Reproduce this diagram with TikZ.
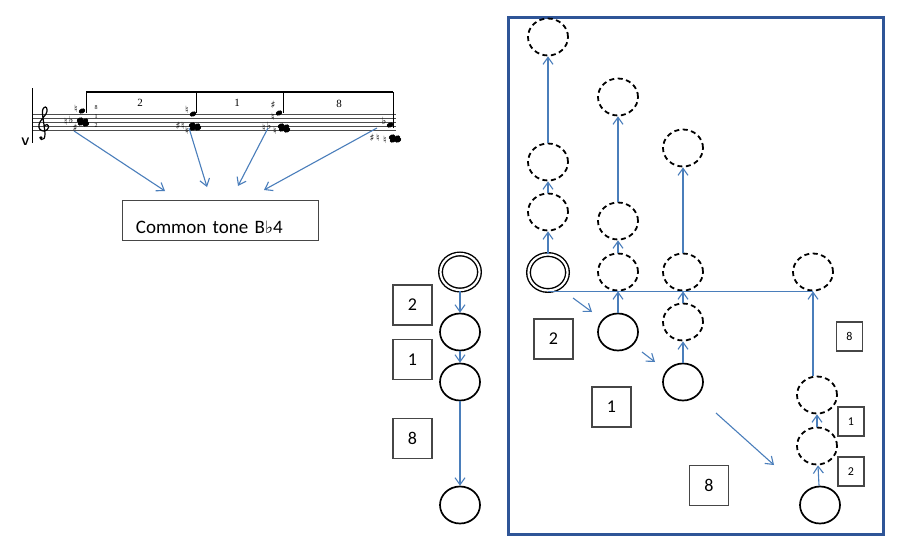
\documentclass[tikz,border=0pt]{standalone}
\usepackage{fontspec}
\setmainfont{Carlito}
\newfontfamily\serif{Liberation Serif}
\newfontfamily\sym{DejaVu Sans}
\usetikzlibrary{arrows.meta,shapes.geometric}
\definecolor{arrowblue}{RGB}{74,126,187}
\definecolor{frameblue}{RGB}{47,85,151}
\definecolor{boxgray}{RGB}{70,70,70}
\newcommand\nhead[2]{\fill[rotate around={25:(#1,#2)}] (#1,#2) ellipse [x radius=3.4pt, y radius=2.4pt];}
\newcommand\acc[3]{\node[font=\sym\fontsize{10}{10}\selectfont, inner sep=0] at (#1,#2) {#3};}
\begin{document}
\begin{tikzpicture}[x=1pt,y=-1pt,
  conn/.style={draw=arrowblue, line width=1.1pt, -{Straight Barb[length=7pt,width=10pt,line width=1.1pt]}},
  bline/.style={draw=arrowblue, line width=1.2pt},
  solidc/.style={ellipse, draw=black, line width=1.7pt, minimum width=40pt, minimum height=37pt, inner sep=0pt},
  dashc/.style={ellipse, draw=black, line width=1.8pt, dash pattern=on 5pt off 3.5pt, minimum width=40pt, minimum height=37pt, inner sep=0pt},
  dblc/.style={ellipse, draw=black, line width=1.4pt, double, double distance=2.2pt, minimum width=39pt, minimum height=36pt, inner sep=0pt},
  numbox/.style={draw=boxgray, line width=1.1pt, minimum width=39pt, minimum height=40pt, inner sep=0pt, font=\fontsize{18}{18}\selectfont},
  smallbox/.style={draw=boxgray, line width=1.1pt, minimum width=26pt, minimum height=29pt, inner sep=0pt, font=\fontsize{12}{12}\selectfont}
]
\useasboundingbox (0,0) rectangle (900,549);
\fill[white] (0,0) rectangle (900,549);

% ---------- music excerpt ----------
\foreach \yy in {114,118,122,126,130} \draw[black!70, line width=0.5pt] (32,\yy) -- (396,\yy);
\draw[black, line width=0.8pt] (32,88) -- (32,143);
\node[font=\sffamily\bfseries\fontsize{11}{11}\selectfont, inner sep=0] (vmark) at (25.5,142) {V};
% treble clef drawn as a shape
\draw[black, line width=1.2pt, line cap=round] plot[smooth, tension=0.7] coordinates {(44.5,126) (47,124.5) (48.5,127.5) (45,131) (40,129.5) (39,124.5) (42,119) (46,114) (47,109.5) (45.5,107) (43,109) (42.5,114) (44,125) (45,134) (44,138.5) (41.5,139.5) (40,137.5)};
\fill[black] (41,137.8) circle (1.6pt);
\draw[black, line width=2.4pt] (86,92) -- (393,92);
\draw[black, line width=0.6pt] (86,92) -- (86,113);
\draw[black, line width=0.6pt] (196,92) -- (196,113);
\draw[black, line width=0.6pt] (283,92) -- (283,113);
\draw[black, line width=0.6pt] (393,92) -- (393,128);
\node[font=\serif\fontsize{11}{11}\selectfont, inner sep=0] (g2) at (140,103) {2};
\node[font=\serif\fontsize{11}{11}\selectfont, inner sep=0] (g1) at (237,103) {1};
\node[font=\serif\fontsize{11}{11}\selectfont, inner sep=0] (g8) at (339,104) {8};
\node[font=\serif\fontsize{6}{6}\selectfont, inner sep=0] (t8) at (96,108) {8};
\node[font=\serif\fontsize{6}{6}\selectfont, inner sep=0] (t1) at (96,117) {1};
\node[font=\serif\fontsize{6}{6}\selectfont, inner sep=0] (t2) at (96,126) {2};
% chord 1
\nhead{82}{111}\nhead{80}{120}\nhead{85}{121}\nhead{81}{123}\nhead{86}{124}
\acc{76}{109}{♮}\acc{66}{122}{♮}\acc{71}{120}{♭}\acc{75}{128}{♯}
% chord 2
\nhead{193}{114}\nhead{192}{125}\nhead{197}{126}\nhead{193}{128}\nhead{198}{128}
\acc{187}{110}{♮}\acc{178}{126}{♯}\acc{183}{126}{♮}\acc{187}{131}{♮}
% chord 3
\nhead{279}{113}\nhead{281}{126}\nhead{286}{127}\nhead{282}{129}\nhead{287}{130}
\acc{273}{105}{♯}\acc{273}{117}{♮}\acc{264}{128}{♮}\acc{269}{126}{♭}\acc{275}{131}{♮}
% chord 4
\nhead{390}{125}\nhead{392}{137}\nhead{397}{138}\nhead{393}{140}\nhead{398}{140}
\acc{384}{121}{♭}\acc{372}{138}{♯}\acc{378}{138}{♮}\acc{385}{140}{♮}

\node[draw=boxgray, line width=1.1pt, text width=170pt, align=left, inner xsep=13pt, inner ysep=0pt,
      text height=33pt, text depth=7.7pt, font=\fontsize{19}{19}\selectfont] (ct) at (220.9,220.4)
      {Common tone B{\sym\fontsize{17}{17}\selectfont ♭}4};

\coordinate (m1s) at (74,131);  \coordinate (m1e) at (165,191);
\coordinate (m2s) at (189,128); \coordinate (m2e) at (207,187);
\coordinate (m3s) at (268,128); \coordinate (m3e) at (238,186);
\coordinate (m4s) at (377,128); \coordinate (m4e) at (264,190);
\draw[conn] (m1s) -- (m1e);
\draw[conn] (m2s) -- (m2e);
\draw[conn] (m3s) -- (m3e);
\draw[conn] (m4s) -- (m4e);

% ---------- middle column ----------
\node[dblc] (M0) at (460,272) {};
\node[solidc] (M1) at (460,332) {};
\node[solidc] (M2) at (460,382) {};
\node[solidc] (M3) at (460,505) {};
\draw[conn] (M0) -- (M1);
\draw[conn] (M1) -- (M2);
\draw[conn] (M2) -- (M3);
\node[numbox] (mb2) at (412.5,305) {2};
\node[numbox] (mb1) at (412.5,359.5) {1};
\node[numbox] (mb8) at (412.5,438.5) {8};

% ---------- right panel ----------
\draw[frameblue, line width=3pt] (508.5,17) rectangle (883,534);

\node[dblc] (A0) at (548,272.5) {};
\node[dashc] (A1) at (548,212) {};
\node[dashc] (A2) at (548,162) {};
\node[dashc] (A3) at (548,37) {};
\node[dashc] (B1) at (618,272) {};
\node[dashc] (B2) at (618,221) {};
\node[dashc] (B3) at (618,97) {};
\node[dashc] (C1) at (683,272) {};
\node[dashc] (C3) at (683,148) {};
\node[dashc] (D) at (813,272) {};
\node[solidc] (E1) at (618,332) {};
\node[dashc] (C2) at (683,322) {};
\node[solidc] (E2) at (683,382) {};
\node[dashc] (F1) at (817,395) {};
\node[dashc] (F2) at (817,446) {};
\node[solidc] (G) at (820,505) {};

\draw[conn] (A0) -- (A1);
\draw[conn] (A1) -- (A2);
\draw[conn] (A2) -- (A3);
\draw[conn] (B1) -- (B2);
\draw[conn] (B2) -- (B3);
\draw[conn] (C1) -- (C3);
\draw[bline] (A0.south) -- (A0.south -| D.south);
\draw[conn] (E1) -- (B1);
\draw[conn] (C2) -- (C1);
\draw[conn] (E2) -- (C2);
\draw[conn] (G) -- (F2);
\draw[conn] (F2) -- (F1);
\draw[conn] (D.south |- F1.north) -- (D.south);

\coordinate (s1a) at (573,298); \coordinate (s1b) at (592,312);
\coordinate (s2a) at (642,352); \coordinate (s2b) at (655,362);
\coordinate (s3a) at (716,413); \coordinate (s3b) at (774,465);
\draw[conn] (s1a) -- (s1b);
\draw[conn] (s2a) -- (s2b);
\draw[conn] (s3a) -- (s3b);

\node[numbox] (rb2) at (553.5,339) {2};
\node[numbox] (rb1) at (611.5,407) {1};
\node[numbox] (rb8) at (709,485.5) {8};
\node[smallbox] (sb8) at (849.5,336.5) {8};
\node[smallbox] (sb1) at (851,421.5) {1};
\node[smallbox] (sb2) at (851,471.5) {2};
\end{tikzpicture}
\end{document}
